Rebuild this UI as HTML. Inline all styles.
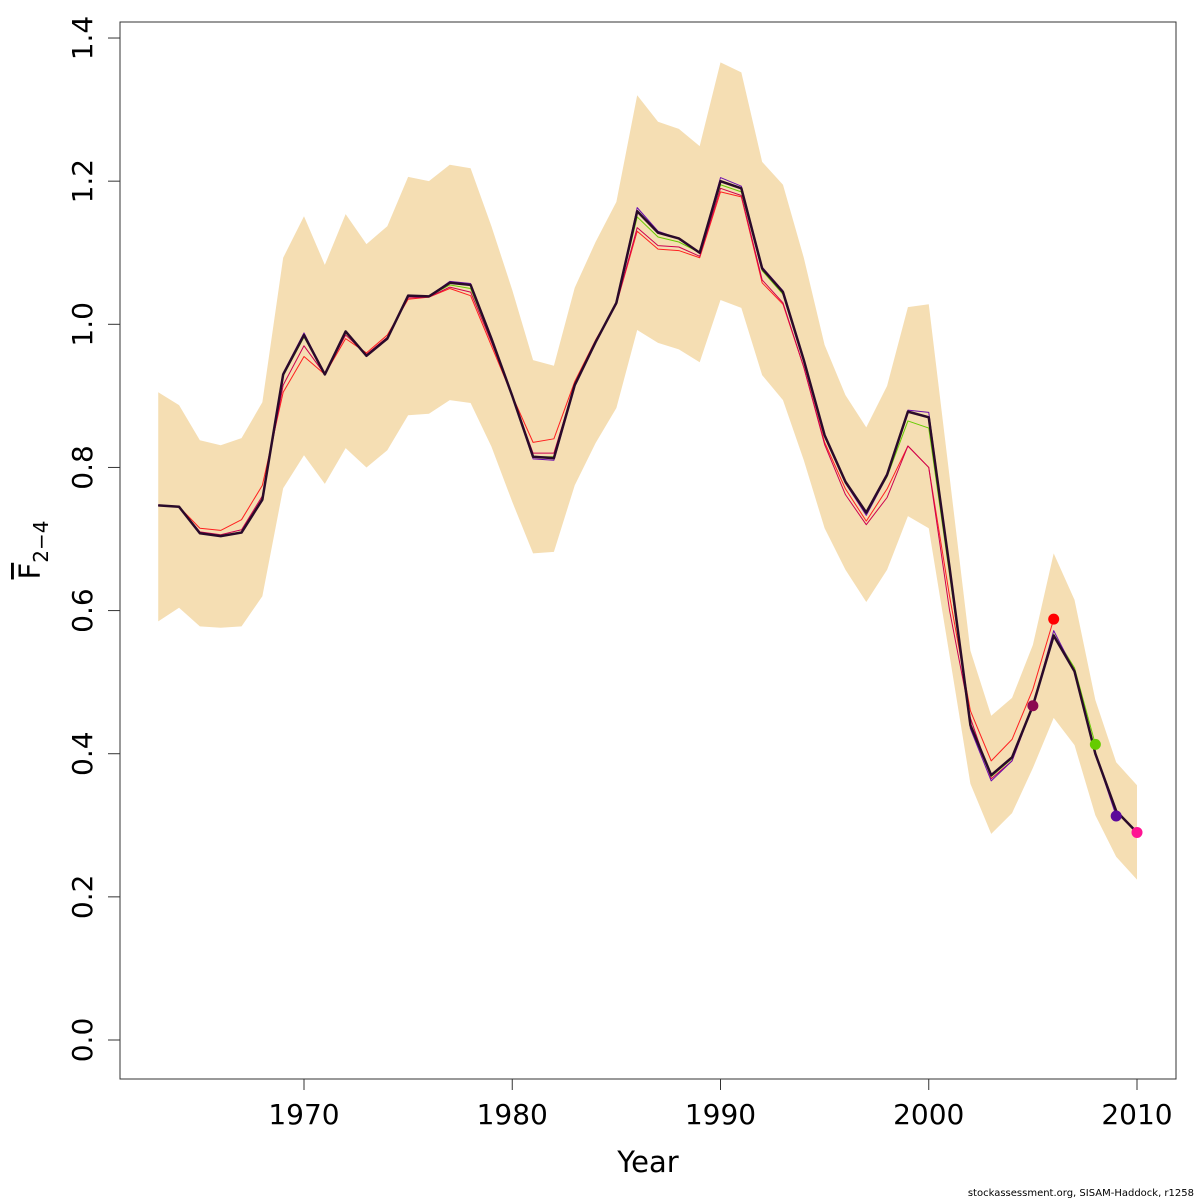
<!DOCTYPE html>
<html><head><meta charset="utf-8"><style>
body{margin:0;background:#fff}
svg{display:block;font-family:"DejaVu Sans","Liberation Sans",sans-serif}
</style></head><body>
<svg id="chart" width="1200" height="1200">
<g id="band"></g>
<g id="lines"></g>
<g id="axes"></g>
<rect x="120" y="22" width="1056" height="1057" fill="none" stroke="#333" stroke-width="1"/>
<text x="648" y="1172" font-size="29" text-anchor="middle">Year</text>
<text transform="translate(40,550) rotate(-90)" font-size="29" text-anchor="middle"><tspan text-decoration="overline">F</tspan><tspan font-size="20" dy="8">2−4</tspan></text>
<text x="1194" y="1196" font-size="10" text-anchor="end">stockassessment.org, SISAM-Haddock, r1258</text>
</svg>
<script>
const years0 = 1963;
const upper = [.905,.887,.838,.831,.841,.891,1.093,1.151,1.083,1.154,1.112,1.137,1.206,1.2,1.223,1.218,1.137,1.048,.95,.942,1.051,1.115,1.171,1.32,1.283,1.273,1.249,1.366,1.352,1.227,1.195,1.093,.971,.901,.856,.914,1.024,1.028,.787,.544,.453,.478,.552,.68,.615,.475,.388,.356];
const lower = [.585,.604,.578,.576,.578,.62,.771,.817,.777,.827,.8,.824,.873,.875,.894,.89,.829,.752,.68,.682,.775,.834,.883,.992,.974,.965,.947,1.034,1.023,.929,.894,.81,.715,.657,.612,.657,.732,.715,.537,.358,.288,.317,.38,.45,.412,.314,.256,.224];
const mainF = [.747,.745,.708,.704,.709,.755,.93,.985,.93,.99,.956,.98,1.04,1.039,1.058,1.055,.98,.9,.815,.813,.915,.975,1.03,1.158,1.128,1.12,1.1,1.2,1.19,1.078,1.045,.95,.845,.78,.737,.79,.878,.87,.66,.44,.37,.395,.467,.565,.515,.4,.32,.29];
const peel1 = [.747,.745,.715,.712,.727,.775,.905,.955,.93,.98,.96,.985,1.035,1.038,1.05,1.04,.97,.9,.835,.84,.92,.978,1.028,1.13,1.105,1.103,1.093,1.185,1.178,1.058,1.028,.94,.835,.77,.725,.77,.83,.80,.62,.46,.39,.42,.49,.588];
const peel2 = [.747,.745,.71,.706,.713,.76,.915,.97,.93,.985,.958,.982,1.037,1.038,1.052,1.045,.975,.9,.82,.82,.915,.975,1.028,1.135,1.11,1.108,1.095,1.19,1.18,1.062,1.03,.94,.832,.762,.72,.758,.83,.80,.6,.45,.365,.39,.467];
const peel3 = [.747,.745,.708,.705,.71,.757,.928,.982,.93,.988,.956,.98,1.04,1.039,1.055,1.05,.978,.9,.815,.815,.915,.975,1.03,1.15,1.122,1.115,1.1,1.195,1.185,1.075,1.042,.948,.843,.778,.735,.787,.865,.855,.65,.44,.368,.393,.467,.567,.52,.413];
const peel4 = [.747,.745,.708,.704,.709,.755,.932,.988,.93,.99,.956,.98,1.04,1.039,1.06,1.057,.982,.9,.812,.81,.913,.975,1.03,1.163,1.13,1.12,1.1,1.205,1.193,1.08,1.047,.952,.843,.778,.733,.788,.88,.877,.66,.435,.362,.39,.467,.572,.515,.4,.313];
const peel5 = [.747,.745,.708,.704,.709,.755,.93,.985,.93,.99,.956,.98,1.04,1.039,1.058,1.055,.98,.9,.815,.813,.915,.975,1.03,1.158,1.128,1.12,1.1,1.2,1.19,1.078,1.045,.95,.845,.78,.737,.79,.878,.87,.66,.44,.37,.395,.467,.565,.515,.4,.32,.29];
const xTicks = [1970,1980,1990,2000,2010];
const yTicks = [0,0.2,0.4,0.6,0.8,1.0,1.2,1.4];
const yTickLabels = ["0.0","0.2","0.4","0.6","0.8","1.0","1.2","1.4"];
const NS="http://www.w3.org/2000/svg";
const X = yr => 304 + (yr-1970)*20.825;
const Y = v => 1040 - v*715.7;
function el(tag, attrs, parent){const e=document.createElementNS(NS,tag);for(const k in attrs)e.setAttribute(k,attrs[k]);parent.appendChild(e);return e;}
const band=document.getElementById('band');
let pts=upper.map((v,i)=>X(years0+i)+','+Y(v));
for(let i=lower.length-1;i>=0;i--)pts.push(X(years0+i)+','+Y(lower[i]));
const poly=el('polygon',{points:pts.join(' '),fill:'#f5deb3'},band);


const lines=document.getElementById('lines');
const series=[[peel1,'#ff2020',1,'peel-2006'],[peel2,'#cc0050',1,'peel-2005'],[peel3,'#66cc00',1,'peel-2008'],[peel4,'#6a0dad',1,'peel-2009'],[peel5,'#ff1493',1,'peel-2010'],[mainF,'#2a0a2a',2.5,'final-estimate']];
const dots=[[peel1,'#ff0000'],[peel2,'#8b0a50'],[peel3,'#66cc00'],[peel4,'#5c0a9a'],[peel5,'#ff1493']];
series.forEach(s=>{
  const p=el('polyline',{points:s[0].map((v,i)=>X(years0+i)+','+Y(v)).join(' '),fill:'none',stroke:s[1],'stroke-width':s[2],'stroke-linejoin':'round'},lines);
  
  
});
dots.forEach(d=>{
  const n=d[0].length-1;
  const c=el('circle',{cx:X(years0+n),cy:Y(d[0][n]),r:5.5,fill:d[1]},lines);
  
  
});
const axes=document.getElementById('axes');
el('line',{x1:X(1970),x2:X(2010),y1:1079,y2:1079,stroke:'#333'},axes);
xTicks.forEach(t=>{
  el('line',{x1:X(t),x2:X(t),y1:1079,y2:1090,stroke:'#333'},axes);
  const tx=el('text',{x:X(t),y:1124,'font-size':28,'text-anchor':'middle'},axes);
  tx.textContent=t;
  
  
});
yTicks.forEach((t,i)=>{
  el('line',{x1:108,x2:120,y1:Y(t),y2:Y(t),stroke:'#333'},axes);
  const tx=el('text',{transform:`translate(92,${Y(t)}) rotate(-90)`,'font-size':28,'text-anchor':'middle'},axes);
  tx.textContent=yTickLabels[i];
  
  
});
</script>
</body></html>
